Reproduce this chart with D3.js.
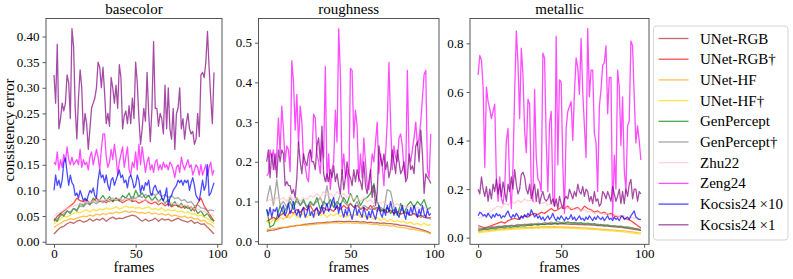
<!DOCTYPE html>
<html><head><meta charset="utf-8">
<script src="https://cdn.jsdelivr.net/npm/d3@7"></script>
<style>body{margin:0;background:#fff}svg{display:block}text{font-family:"Liberation Serif","Times New Roman",serif;}</style>
</head><body><svg id="c" width="793" height="279"></svg>
<script>
const seriesNames = ["UNet-RGB","UNet-RGB\u2020","UNet-HF","UNet-HF\u2020","GenPercept","GenPercept\u2020","Zhu22","Zeng24","Kocsis24 \u00d710","Kocsis24 \u00d71"];
const seriesColors = ["brown","red","orange","gold","green","gray","pink","magenta","blue","purple"];
const panelTitles = ["basecolor","roughness","metallic"];
const xTicks = [0,50,100];
const yTicksBase = [0,0.05,0.10,0.15,0.20,0.25,0.30,0.35,0.40];
const yTicksRough = [0,0.1,0.2,0.3,0.4,0.5];
const yTicksMetal = [0,0.2,0.4,0.6,0.8];

// ---- basecolor ----
const bcUnetRgb = [0.015,0.022,0.028,0.03,0.035,0.038,0.036,0.04,0.042,0.038,0.04,0.045,0.04,0.044,0.042,0.046,0.04,0.045,0.048,0.044,0.046,0.045,0.048,0.05,0.052,0.05,0.045,0.04,0.044,0.04,0.042,0.046,0.04,0.045,0.042,0.044,0.04,0.043,0.046,0.042,0.04,0.038,0.042,0.036,0.038,0.034,0.035,0.028,0.022,0.015];
const bcUnetRgbD = [0.04,0.05,0.055,0.06,0.065,0.07,0.075,0.085,0.08,0.078,0.082,0.075,0.08,0.085,0.078,0.08,0.076,0.082,0.079,0.085,0.08,0.076,0.08,0.083,0.078,0.08,0.075,0.078,0.082,0.076,0.074,0.078,0.072,0.076,0.07,0.074,0.068,0.072,0.07,0.066,0.07,0.065,0.068,0.06,0.075,0.085,0.07,0.06,0.05,0.04];
const bcUnetHf = [0.028,0.032,0.036,0.04,0.042,0.045,0.043,0.046,0.048,0.05,0.049,0.052,0.05,0.054,0.052,0.055,0.053,0.056,0.055,0.058,0.056,0.058,0.06,0.057,0.059,0.058,0.056,0.057,0.055,0.058,0.054,0.056,0.053,0.055,0.052,0.054,0.05,0.052,0.05,0.048,0.05,0.046,0.048,0.044,0.045,0.04,0.042,0.036,0.034,0.028];
const bcUnetHfD = [0.035,0.04,0.045,0.05,0.048,0.052,0.055,0.058,0.056,0.06,0.062,0.058,0.063,0.06,0.064,0.062,0.066,0.063,0.065,0.068,0.064,0.066,0.07,0.066,0.068,0.065,0.067,0.064,0.066,0.068,0.063,0.065,0.062,0.066,0.06,0.063,0.06,0.062,0.058,0.06,0.056,0.058,0.054,0.055,0.05,0.052,0.048,0.045,0.04,0.035];
const bcGen = [0.045,0.04,0.055,0.05,0.06,0.055,0.065,0.06,0.075,0.07,0.08,0.072,0.085,0.078,0.082,0.09,0.08,0.088,0.078,0.085,0.08,0.09,0.085,0.095,0.08,0.1,0.088,0.095,0.085,0.09,0.08,0.088,0.078,0.085,0.075,0.082,0.07,0.078,0.068,0.075,0.065,0.07,0.06,0.068,0.055,0.06,0.05,0.055,0.045,0.04];
const bcGenD = [0.04,0.045,0.05,0.055,0.06,0.058,0.065,0.062,0.07,0.068,0.075,0.072,0.078,0.074,0.08,0.076,0.082,0.078,0.085,0.08,0.084,0.08,0.086,0.082,0.088,0.084,0.09,0.086,0.092,0.088,0.094,0.09,0.095,0.088,0.092,0.086,0.09,0.084,0.086,0.08,0.082,0.076,0.078,0.07,0.072,0.066,0.065,0.06,0.062,0.06];
const bcZhu = [0.05,0.055,0.058,0.062,0.065,0.068,0.07,0.072,0.074,0.075,0.078,0.076,0.08,0.078,0.082,0.08,0.083,0.08,0.084,0.082,0.085,0.082,0.084,0.08,0.083,0.081,0.082,0.08,0.082,0.079,0.08,0.078,0.08,0.076,0.078,0.075,0.076,0.073,0.074,0.07,0.072,0.068,0.068,0.064,0.064,0.06,0.06,0.056,0.054,0.05];
const bcZeng = [0.155,0.15,0.175,0.14,0.16,0.145,0.17,0.155,0.185,0.16,0.15,0.165,0.15,0.155,0.16,0.15,0.18,0.145,0.16,0.15,0.155,0.14,0.165,0.175,0.15,0.165,0.18,0.165,0.14,0.18,0.21,0.21,0.165,0.145,0.155,0.18,0.16,0.19,0.165,0.13,0.155,0.17,0.185,0.145,0.165,0.185,0.14,0.13,0.155,0.145,0.175,0.14,0.19,0.15,0.185,0.16,0.135,0.155,0.165,0.14,0.15,0.135,0.155,0.16,0.14,0.15,0.14,0.155,0.145,0.15,0.14,0.155,0.15,0.14,0.125,0.145,0.15,0.135,0.165,0.15,0.14,0.15,0.16,0.145,0.15,0.13,0.14,0.15,0.145,0.13,0.15,0.13,0.14,0.15,0.13,0.145,0.155,0.13,0.14];
const bcKoc10 = [0.10,0.13,0.11,0.12,0.105,0.12,0.155,0.163,0.135,0.11,0.13,0.115,0.11,0.09,0.095,0.085,0.10,0.09,0.08,0.085,0.08,0.09,0.10,0.095,0.105,0.09,0.085,0.12,0.14,0.125,0.13,0.115,0.13,0.11,0.10,0.12,0.125,0.11,0.12,0.13,0.14,0.125,0.13,0.115,0.12,0.105,0.125,0.13,0.12,0.105,0.11,0.13,0.12,0.095,0.11,0.10,0.115,0.11,0.12,0.095,0.09,0.105,0.11,0.10,0.095,0.10,0.085,0.08,0.09,0.105,0.07,0.085,0.09,0.10,0.105,0.11,0.12,0.115,0.12,0.11,0.12,0.115,0.12,0.10,0.115,0.125,0.11,0.09,0.085,0.08,0.10,0.12,0.10,0.11,0.15,0.09,0.095,0.105,0.115];
const bcKoc1 = [0.325,0.27,0.385,0.22,0.24,0.27,0.255,0.27,0.325,0.31,0.24,0.415,0.38,0.26,0.20,0.28,0.335,0.30,0.21,0.25,0.23,0.18,0.22,0.26,0.27,0.28,0.30,0.35,0.34,0.30,0.34,0.29,0.23,0.25,0.225,0.32,0.30,0.27,0.305,0.26,0.345,0.32,0.22,0.245,0.255,0.23,0.265,0.23,0.28,0.24,0.35,0.31,0.24,0.19,0.22,0.26,0.235,0.33,0.25,0.195,0.26,0.39,0.26,0.26,0.225,0.25,0.24,0.21,0.305,0.22,0.30,0.22,0.20,0.26,0.18,0.25,0.26,0.30,0.22,0.24,0.20,0.23,0.25,0.22,0.21,0.215,0.19,0.20,0.25,0.205,0.325,0.33,0.32,0.35,0.41,0.34,0.28,0.23,0.33];

// ---- roughness ----
const rgUnetRgb = [0.025,0.027,0.028,0.03,0.032,0.034,0.035,0.037,0.038,0.04,0.04,0.042,0.043,0.044,0.045,0.046,0.046,0.047,0.048,0.048,0.049,0.05,0.05,0.049,0.05,0.05,0.049,0.05,0.048,0.049,0.047,0.048,0.046,0.047,0.045,0.046,0.044,0.044,0.043,0.042,0.04,0.04,0.038,0.036,0.034,0.032,0.03,0.027,0.024,0.02];
const rgUnetRgbD = [0.05,0.055,0.06,0.055,0.065,0.07,0.06,0.075,0.07,0.08,0.072,0.085,0.078,0.09,0.075,0.082,0.07,0.085,0.078,0.08,0.075,0.088,0.08,0.09,0.082,0.095,0.085,0.09,0.08,0.085,0.078,0.09,0.08,0.085,0.075,0.08,0.072,0.078,0.07,0.075,0.068,0.072,0.07,0.065,0.07,0.062,0.065,0.06,0.058,0.06];
const rgUnetHf = [0.03,0.03,0.032,0.033,0.035,0.035,0.036,0.038,0.037,0.039,0.04,0.041,0.04,0.042,0.042,0.043,0.044,0.045,0.044,0.046,0.046,0.047,0.045,0.047,0.046,0.046,0.045,0.046,0.044,0.045,0.044,0.043,0.042,0.043,0.04,0.041,0.04,0.038,0.039,0.036,0.035,0.034,0.032,0.03,0.03,0.028,0.026,0.024,0.022,0.018];
const rgUnetHfD = [0.05,0.045,0.055,0.05,0.06,0.055,0.065,0.058,0.07,0.06,0.065,0.07,0.06,0.068,0.062,0.072,0.065,0.07,0.06,0.068,0.064,0.07,0.062,0.066,0.06,0.068,0.064,0.07,0.06,0.065,0.058,0.062,0.055,0.06,0.052,0.058,0.05,0.055,0.05,0.052,0.048,0.05,0.045,0.048,0.042,0.045,0.04,0.045,0.04,0.042];
const rgGen = [0.08,0.035,0.04,0.06,0.09,0.07,0.085,0.1,0.08,0.11,0.09,0.105,0.085,0.1,0.09,0.11,0.08,0.1,0.09,0.105,0.085,0.1,0.09,0.11,0.095,0.12,0.1,0.115,0.09,0.105,0.11,0.12,0.145,0.1,0.08,0.075,0.085,0.07,0.08,0.065,0.095,0.07,0.09,0.1,0.085,0.1,0.09,0.105,0.08,0.085];
const rgGenD = [0.1,0.14,0.09,0.155,0.09,0.1,0.085,0.11,0.095,0.1,0.09,0.1,0.085,0.095,0.09,0.1,0.11,0.09,0.14,0.085,0.1,0.09,0.12,0.1,0.09,0.095,0.085,0.1,0.08,0.09,0.085,0.08,0.09,0.075,0.085,0.08,0.13,0.125,0.085,0.07,0.08,0.075,0.07,0.065,0.07,0.065,0.06,0.065,0.06,0.055];
const rgZhu = [0.1,0.105,0.1,0.11,0.105,0.11,0.1,0.115,0.105,0.11,0.1,0.11,0.105,0.115,0.11,0.12,0.11,0.125,0.115,0.12,0.11,0.125,0.115,0.12,0.11,0.115,0.105,0.11,0.1,0.11,0.1,0.105,0.095,0.1,0.095,0.1,0.09,0.095,0.09,0.095,0.085,0.09,0.085,0.09,0.08,0.085,0.08,0.085,0.08,0.08];
const rgZeng = [0.165,0.17,0.23,0.21,0.23,0.18,0.22,0.31,0.22,0.34,0.28,0.20,0.24,0.23,0.175,0.455,0.40,0.28,0.37,0.24,0.34,0.30,0.20,0.19,0.16,0.15,0.23,0.21,0.32,0.31,0.22,0.20,0.17,0.25,0.21,0.44,0.15,0.22,0.13,0.18,0.20,0.33,0.25,0.535,0.42,0.17,0.22,0.16,0.18,0.12,0.435,0.43,0.26,0.33,0.29,0.15,0.22,0.16,0.26,0.20,0.14,0.13,0.17,0.22,0.20,0.25,0.30,0.17,0.22,0.19,0.14,0.22,0.30,0.45,0.30,0.18,0.24,0.21,0.20,0.26,0.27,0.24,0.18,0.16,0.43,0.22,0.20,0.23,0.26,0.30,0.24,0.26,0.30,0.36,0.42,0.43,0.18,0.16,0.27];
const rgKoc10 = [0.08,0.065,0.085,0.06,0.08,0.075,0.085,0.06,0.07,0.08,0.09,0.065,0.075,0.095,0.07,0.08,0.10,0.075,0.065,0.08,0.06,0.075,0.085,0.06,0.07,0.09,0.065,0.075,0.06,0.08,0.085,0.065,0.075,0.09,0.07,0.08,0.095,0.075,0.085,0.10,0.11,0.08,0.09,0.07,0.095,0.075,0.06,0.08,0.065,0.085,0.07,0.055,0.075,0.09,0.065,0.08,0.07,0.06,0.085,0.07,0.055,0.075,0.06,0.08,0.065,0.055,0.075,0.09,0.07,0.06,0.08,0.065,0.09,0.075,0.10,0.08,0.065,0.085,0.07,0.06,0.075,0.09,0.07,0.055,0.08,0.065,0.085,0.07,0.09,0.075,0.06,0.08,0.065,0.09,0.07,0.06,0.08,0.065,0.07];
const rgKoc1 = [0.20,0.23,0.16,0.22,0.18,0.22,0.16,0.23,0.20,0.23,0.22,0.14,0.15,0.14,0.14,0.12,0.13,0.11,0.16,0.25,0.20,0.17,0.22,0.20,0.19,0.22,0.23,0.20,0.20,0.18,0.24,0.26,0.20,0.29,0.17,0.15,0.17,0.15,0.18,0.16,0.19,0.15,0.17,0.14,0.12,0.18,0.13,0.16,0.20,0.17,0.16,0.14,0.18,0.15,0.18,0.16,0.15,0.13,0.20,0.14,0.12,0.15,0.18,0.11,0.14,0.09,0.12,0.24,0.21,0.19,0.22,0.18,0.20,0.16,0.18,0.23,0.20,0.17,0.23,0.20,0.17,0.18,0.20,0.15,0.16,0.22,0.18,0.19,0.17,0.24,0.25,0.20,0.28,0.22,0.12,0.17,0.16,0.155,0.145];

// ---- metallic ----
const mtUnetRgb = [0.035,0.036,0.038,0.04,0.042,0.043,0.045,0.046,0.047,0.048,0.05,0.05,0.052,0.053,0.053,0.055,0.054,0.056,0.055,0.057,0.056,0.058,0.057,0.058,0.056,0.058,0.057,0.056,0.055,0.056,0.054,0.055,0.053,0.054,0.052,0.052,0.05,0.05,0.048,0.048,0.046,0.045,0.044,0.042,0.04,0.038,0.036,0.034,0.032,0.03];
const mtUnetRgbD = [0.05,0.045,0.04,0.045,0.05,0.055,0.06,0.065,0.06,0.07,0.075,0.08,0.075,0.085,0.09,0.085,0.095,0.1,0.095,0.105,0.1,0.11,0.12,0.11,0.115,0.125,0.12,0.13,0.115,0.12,0.125,0.11,0.13,0.12,0.115,0.105,0.11,0.1,0.105,0.095,0.1,0.09,0.085,0.09,0.08,0.075,0.07,0.06,0.05,0.04];
const mtUnetHf = [0.025,0.027,0.028,0.03,0.031,0.032,0.034,0.035,0.036,0.037,0.038,0.039,0.04,0.041,0.041,0.042,0.042,0.043,0.043,0.044,0.044,0.045,0.044,0.045,0.044,0.044,0.043,0.043,0.042,0.042,0.041,0.04,0.04,0.039,0.038,0.037,0.036,0.035,0.034,0.033,0.032,0.031,0.03,0.029,0.028,0.026,0.025,0.023,0.021,0.02];
const mtUnetHfD = [0.02,0.022,0.024,0.025,0.027,0.028,0.03,0.031,0.032,0.033,0.034,0.035,0.036,0.036,0.037,0.038,0.038,0.039,0.039,0.04,0.04,0.04,0.04,0.041,0.04,0.04,0.039,0.039,0.038,0.038,0.037,0.036,0.036,0.035,0.034,0.033,0.032,0.031,0.03,0.029,0.028,0.027,0.026,0.025,0.023,0.022,0.02,0.018,0.016,0.015];
const mtGen = [0.03,0.032,0.035,0.034,0.038,0.036,0.04,0.042,0.04,0.045,0.043,0.047,0.045,0.05,0.048,0.052,0.05,0.055,0.052,0.056,0.054,0.058,0.055,0.06,0.057,0.062,0.058,0.065,0.06,0.063,0.058,0.062,0.056,0.06,0.055,0.058,0.052,0.055,0.05,0.053,0.048,0.05,0.045,0.048,0.042,0.044,0.04,0.038,0.035,0.03];
const mtGenD = [0.04,0.038,0.042,0.04,0.045,0.043,0.047,0.045,0.05,0.048,0.052,0.05,0.055,0.052,0.056,0.054,0.058,0.055,0.06,0.057,0.062,0.06,0.064,0.06,0.066,0.062,0.065,0.06,0.063,0.058,0.062,0.056,0.06,0.055,0.058,0.053,0.056,0.05,0.054,0.048,0.05,0.046,0.048,0.044,0.045,0.04,0.042,0.038,0.036,0.035];
const mtZhu = [0.08,0.085,0.09,0.1,0.11,0.12,0.13,0.125,0.14,0.135,0.15,0.14,0.155,0.145,0.16,0.15,0.155,0.145,0.15,0.14,0.145,0.135,0.14,0.13,0.135,0.125,0.13,0.12,0.125,0.115,0.12,0.11,0.115,0.105,0.11,0.1,0.105,0.1,0.095,0.1,0.09,0.095,0.09,0.085,0.09,0.08,0.085,0.08,0.075,0.07];
const mtZeng = [0.67,0.75,0.73,0.62,0.29,0.62,0.56,0.53,0.49,0.52,0.55,0.24,0.15,0.25,0.16,0.14,0.20,0.40,0.45,0.22,0.12,0.30,0.60,0.85,0.72,0.49,0.78,0.67,0.44,0.35,0.57,0.55,0.20,0.15,0.61,0.33,0.24,0.23,0.19,0.76,0.74,0.40,0.19,0.47,0.52,0.17,0.13,0.83,0.30,0.65,0.64,0.30,0.10,0.45,0.52,0.54,0.56,0.40,0.60,0.74,0.70,0.59,0.82,0.60,0.46,0.33,0.86,0.58,0.69,0.69,0.43,0.39,0.19,0.54,0.61,0.71,0.72,0.79,0.51,0.66,0.66,0.08,0.34,0.20,0.69,0.62,0.38,0.58,0.28,0.19,0.46,0.48,0.81,0.79,0.58,0.39,0.46,0.40,0.32];
const mtKoc10 = [0.09,0.105,0.10,0.09,0.095,0.085,0.10,0.09,0.08,0.095,0.085,0.10,0.09,0.095,0.08,0.09,0.085,0.10,0.11,0.09,0.08,0.095,0.085,0.10,0.09,0.075,0.09,0.08,0.095,0.085,0.10,0.09,0.115,0.10,0.085,0.095,0.08,0.09,0.075,0.085,0.07,0.08,0.09,0.075,0.085,0.10,0.08,0.07,0.085,0.075,0.09,0.08,0.07,0.085,0.075,0.08,0.095,0.075,0.085,0.07,0.08,0.09,0.075,0.08,0.07,0.085,0.075,0.09,0.08,0.07,0.085,0.075,0.09,0.08,0.075,0.085,0.07,0.08,0.09,0.075,0.08,0.07,0.085,0.075,0.08,0.07,0.085,0.09,0.075,0.08,0.085,0.075,0.09,0.10,0.11,0.085,0.08,0.075,0.075];
const mtKoc1 = [0.20,0.18,0.25,0.20,0.17,0.21,0.15,0.20,0.16,0.22,0.19,0.24,0.18,0.22,0.17,0.23,0.19,0.15,0.22,0.19,0.25,0.20,0.28,0.22,0.18,0.20,0.26,0.27,0.25,0.20,0.18,0.22,0.16,0.19,0.22,0.15,0.20,0.14,0.17,0.19,0.16,0.15,0.16,0.18,0.14,0.16,0.13,0.16,0.12,0.17,0.14,0.12,0.16,0.17,0.16,0.20,0.18,0.16,0.19,0.17,0.22,0.19,0.18,0.21,0.17,0.20,0.19,0.15,0.17,0.14,0.19,0.15,0.16,0.13,0.14,0.19,0.18,0.16,0.19,0.17,0.15,0.21,0.18,0.15,0.17,0.20,0.14,0.19,0.14,0.20,0.17,0.22,0.24,0.16,0.20,0.20,0.15,0.19,0.18];

const panelData = [
  [bcUnetRgb,bcUnetRgbD,bcUnetHf,bcUnetHfD,bcGen,bcGenD,bcZhu,bcZeng,bcKoc10,bcKoc1],
  [rgUnetRgb,rgUnetRgbD,rgUnetHf,rgUnetHfD,rgGen,rgGenD,rgZhu,rgZeng,rgKoc10,rgKoc1],
  [mtUnetRgb,mtUnetRgbD,mtUnetHf,mtUnetHfD,mtGen,mtGenD,mtZhu,mtZeng,mtKoc10,mtKoc1]
];
const panelYTicks = [yTicksBase, yTicksRough, yTicksMetal];
const panelFmt = [".2f", ".1f", ".1f"];

const LAST_FRAME = 98;
const svg = d3.select("#c");
const boxes = [[46,222],[258.5,439],[470,649]];
const plotTop = 18.5, plotBottom = 244.3;
const lineAlpha = 0.7;
const fontStack = '"Liberation Serif","Times New Roman",serif';

panelData.forEach((series, p) => {
  const [x0, x1] = boxes[p];
  const g = svg.append("g");
  const x = d3.scaleLinear().domain([-0.05*LAST_FRAME, LAST_FRAME*1.05]).range([x0, x1]);
  const all = series.flat();
  const lo = d3.min(all), hi = d3.max(all), pad = (hi - lo) * 0.05;
  const y = d3.scaleLinear().domain([lo - pad, hi + pad]).range([plotBottom, plotTop]);

  const cid = "clip" + p;
  svg.append("clipPath").attr("id", cid).append("rect")
    .attr("x", x0).attr("y", plotTop).attr("width", x1 - x0).attr("height", plotBottom - plotTop);

  const lines = g.append("g").attr("clip-path", `url(#${cid})`);
  series.forEach((vals, k) => {
    const step = LAST_FRAME / (vals.length - 1);
    const line = d3.line().x((d, i) => x(i * step)).y(d => y(d));
    lines.append("path").datum(vals).attr("d", line)
      .attr("fill", "none").attr("stroke", seriesColors[k])
      .attr("stroke-opacity", lineAlpha).attr("stroke-width", 1.3)
      .attr("stroke-linejoin", "round");
  });

  const xa = g.append("g").attr("transform", `translate(0,${plotBottom})`)
    .call(d3.axisBottom(x).tickValues(xTicks).tickFormat(d3.format("d")).tickSize(3.5).tickPadding(0.5));
  const ya = g.append("g").attr("transform", `translate(${x0},0)`)
    .call(d3.axisLeft(y).tickValues(panelYTicks[p]).tickFormat(d3.format(panelFmt[p])).tickSize(3.5).tickPadding(3));
  [xa, ya].forEach(a => {
    a.select(".domain").remove();
    a.selectAll("line").attr("stroke", "#333").attr("stroke-width", 0.8);
    a.selectAll("text").attr("font-size", "13px").attr("fill", "#000").style("font-family", fontStack);
  });

  g.append("rect").attr("x", x0).attr("y", plotTop).attr("width", x1 - x0).attr("height", plotBottom - plotTop)
    .attr("fill", "none").attr("stroke", "#444").attr("stroke-width", 0.9);

  g.append("text").attr("x", (x0 + x1) / 2).attr("y", 14).attr("text-anchor", "middle")
    .attr("font-size", "15px").text(panelTitles[p]);
  g.append("text").attr("x", (x0 + x1) / 2).attr("y", 272).attr("text-anchor", "middle")
    .attr("font-size", "15px").text("frames");
});

svg.append("text").attr("transform", `translate(14,130) rotate(-90)`)
  .attr("text-anchor", "middle").attr("font-size", "15px").text("consistency error");

// legend
const lg = svg.append("g");
lg.append("rect").attr("x", 653.5).attr("y", 26).attr("width", 134.5).attr("height", 214)
  .attr("rx", 3).attr("fill", "#fff").attr("fill-opacity", 0.8).attr("stroke", "#d0d0d0").attr("stroke-width", 0.9);
seriesNames.forEach((name, k) => {
  const yy = 38.5 + k * 20.7;
  lg.append("line").attr("x1", 658.5).attr("x2", 688.5).attr("y1", yy).attr("y2", yy)
    .attr("stroke", seriesColors[k]).attr("stroke-opacity", lineAlpha).attr("stroke-width", 1.3);
  lg.append("text").attr("x", 700).attr("y", yy + 5).attr("font-size", "15px").text(name);
});
</script></body></html>
